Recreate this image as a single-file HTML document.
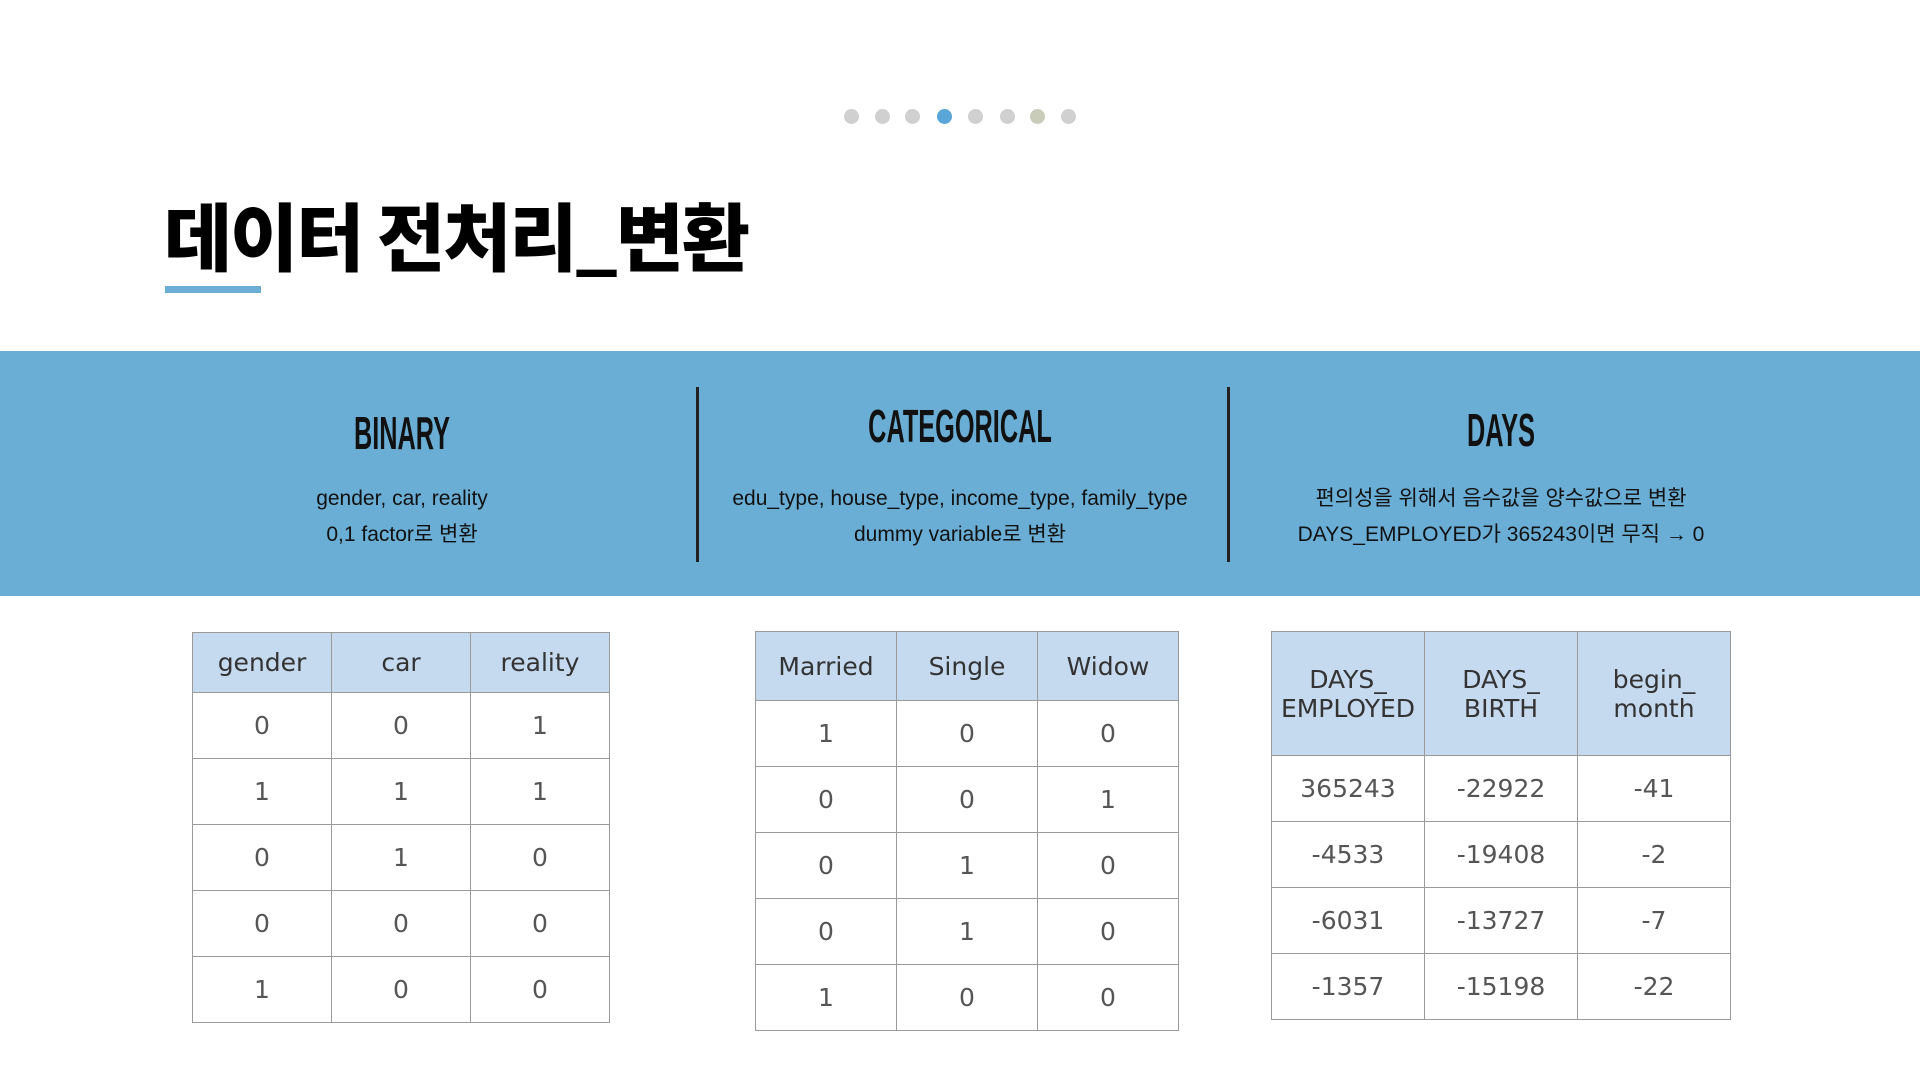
<!DOCTYPE html>
<html><head><meta charset="utf-8">
<style>
body{margin:0;width:1920px;height:1080px;background:#fff;position:relative;overflow:hidden;font-family:"Liberation Sans","Noto Sans CJK KR",sans-serif;}
.dot{position:absolute;width:15px;height:15px;border-radius:50%;background:#d0d0d0;top:109px;}
.title{position:absolute;left:164px;top:184px;font-family:"Noto Sans CJK KR",sans-serif;font-weight:900;font-size:74px;line-height:100px;color:#000;letter-spacing:-2px;}
.uline{position:absolute;left:165px;top:286px;width:96px;height:7px;background:#6aaed6;}
.band{position:absolute;left:0;top:351px;width:1920px;height:245px;background:#6aaed6;}
.div{position:absolute;top:387px;width:3px;height:175px;background:#222;}
.head{position:absolute;width:500px;text-align:center;font-family:"Liberation Sans",sans-serif;font-weight:bold;font-size:46px;color:#111;transform:scaleX(0.55);line-height:50px;}
.sub{position:absolute;width:600px;text-align:center;font-family:"Liberation Sans","Noto Sans CJK KR",sans-serif;font-size:21px;color:#111;line-height:36px;}
table{position:absolute;border-collapse:collapse;table-layout:fixed;}
td,th{border:1.5px solid #9a9a9a;text-align:center;font-family:"DejaVu Sans","Noto Sans CJK KR",sans-serif;font-size:25px;color:#555;font-weight:normal;padding:0;}
th{background:#c5d9ef;color:#333;line-height:29px;}
</style></head><body>
<div>
<div class="dot" style="left:844px"></div>
<div class="dot" style="left:875px"></div>
<div class="dot" style="left:905px"></div>
<div class="dot" style="left:937px;background:#5aa6d8"></div>
<div class="dot" style="left:968px"></div>
<div class="dot" style="left:1000px"></div>
<div class="dot" style="left:1030px;background:#c9ccb9"></div>
<div class="dot" style="left:1061px"></div>
</div>
<div class="title">데이터 전처리_변환</div>
<div class="uline"></div>
<div class="band"></div>
<div class="div" style="left:696px"></div>
<div class="div" style="left:1227px"></div>
<div class="head" style="left:152px;top:408px">BINARY</div>
<div class="head" style="left:710px;top:401px">CATEGORICAL</div>
<div class="head" style="left:1251px;top:405px">DAYS</div>
<div class="sub" style="left:102px;top:481px">gender, car, reality<br>0,1 factor로 변환</div>
<div class="sub" style="left:660px;top:481px">edu_type, house_type, income_type, family_type<br>dummy variable로 변환</div>
<div class="sub" style="left:1201px;top:481px">편의성을 위해서 음수값을 양수값으로 변환<br>DAYS_EMPLOYED가 365243이면 무직 → 0</div>

<table style="left:192px;top:632px;width:418px">
<tr style="height:60px"><th>gender</th><th>car</th><th>reality</th></tr>
<tr style="height:66px"><td>0</td><td>0</td><td>1</td></tr>
<tr style="height:66px"><td>1</td><td>1</td><td>1</td></tr>
<tr style="height:66px"><td>0</td><td>1</td><td>0</td></tr>
<tr style="height:66px"><td>0</td><td>0</td><td>0</td></tr>
<tr style="height:66px"><td>1</td><td>0</td><td>0</td></tr>
</table>

<table style="left:755px;top:631px;width:424px">
<tr style="height:69px"><th>Married</th><th>Single</th><th>Widow</th></tr>
<tr style="height:66px"><td>1</td><td>0</td><td>0</td></tr>
<tr style="height:66px"><td>0</td><td>0</td><td>1</td></tr>
<tr style="height:66px"><td>0</td><td>1</td><td>0</td></tr>
<tr style="height:66px"><td>0</td><td>1</td><td>0</td></tr>
<tr style="height:66px"><td>1</td><td>0</td><td>0</td></tr>
</table>

<table style="left:1271px;top:631px;width:460px">
<tr style="height:124px"><th>DAYS_<br>EMPLOYED</th><th>DAYS_<br>BIRTH</th><th>begin_<br>month</th></tr>
<tr style="height:66px"><td>365243</td><td>-22922</td><td>-41</td></tr>
<tr style="height:66px"><td>-4533</td><td>-19408</td><td>-2</td></tr>
<tr style="height:66px"><td>-6031</td><td>-13727</td><td>-7</td></tr>
<tr style="height:66px"><td>-1357</td><td>-15198</td><td>-22</td></tr>
</table>
</body></html>
